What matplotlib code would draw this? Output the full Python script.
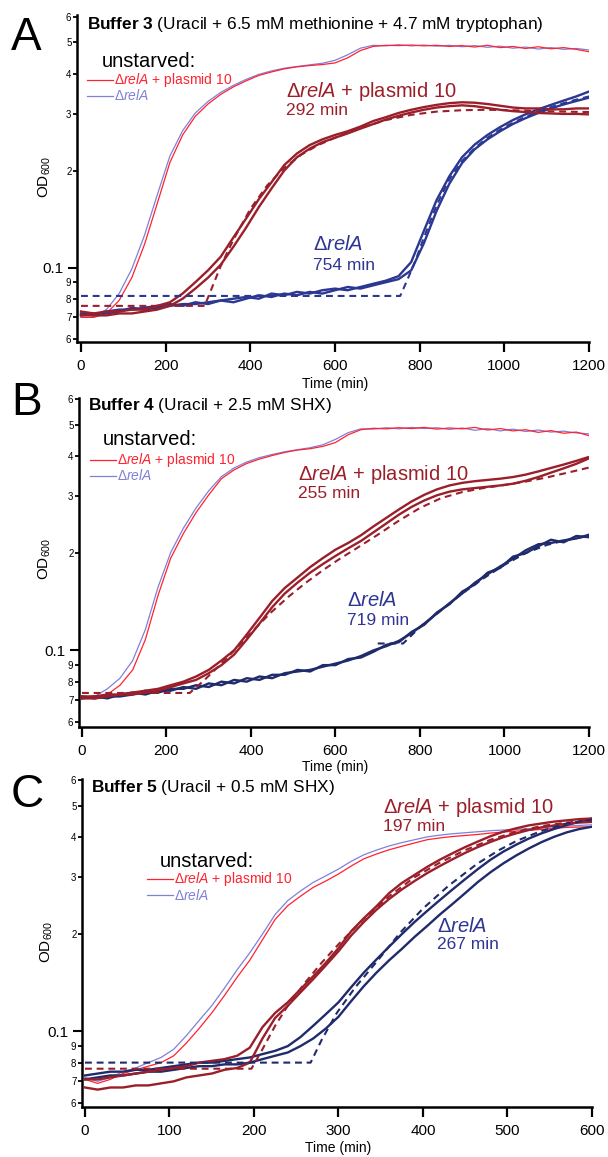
import numpy as np
import matplotlib
matplotlib.use('Agg')
import matplotlib.pyplot as plt
from matplotlib.ticker import FixedLocator, FixedFormatter, NullLocator
from matplotlib.lines import Line2D

plt.rcParams['font.family'] = ['Liberation Sans', 'DejaVu Sans']
plt.rcParams['mathtext.fontset'] = 'custom'
plt.rcParams['mathtext.rm'] = 'Liberation Sans'
plt.rcParams['mathtext.it'] = 'Liberation Sans:italic'
plt.rcParams['mathtext.bf'] = 'Liberation Sans:bold'

W, H = 608, 1157

# --- colours ---
C_UNST_RED = '#ff2230'
C_UNST_BLUE = '#8080d8'
C_PLAS = '#9b1f2a'
C_RELA_A = '#2b3790'
C_RELA_BC = '#1f2b6b'
C_TXT_BLUE = '#2e3592'

# --- axis ticks ---
y_minor_vals = [0.06, 0.07, 0.08, 0.09, 0.2, 0.3, 0.4, 0.5, 0.6]
y_minor_labels = ['6', '7', '8', '9', '2', '3', '4', '5', '6']

# ================= Panel A (Buffer 3) =================
tA = np.arange(0, 1201, 30)
a_unst_red = [0.070, 0.070, 0.072, 0.079, 0.093, 0.118, 0.158, 0.212, 0.258, 0.295,
              0.322, 0.345, 0.364, 0.380, 0.395, 0.405, 0.414, 0.420, 0.424, 0.427,
              0.432, 0.448, 0.472, 0.486, 0.490, 0.489, 0.491, 0.488, 0.490, 0.486,
              0.489, 0.484, 0.490, 0.482, 0.486, 0.479, 0.485, 0.478, 0.482, 0.476, 0.468]
a_unst_blue = [0.071, 0.071, 0.074, 0.083, 0.099, 0.126, 0.168, 0.222, 0.266, 0.302,
               0.328, 0.350, 0.368, 0.384, 0.398, 0.408, 0.416, 0.421, 0.426, 0.431,
               0.440, 0.458, 0.480, 0.490, 0.488, 0.492, 0.488, 0.491, 0.487, 0.490,
               0.485, 0.489, 0.483, 0.487, 0.480, 0.484, 0.477, 0.482, 0.476, 0.479, 0.474]
a_plas1 = [0.073, 0.072, 0.073, 0.073, 0.074, 0.074, 0.076, 0.078, 0.083, 0.090,
           0.098, 0.108, 0.124, 0.142, 0.163, 0.184, 0.208, 0.226, 0.240, 0.250,
           0.258, 0.265, 0.274, 0.285, 0.293, 0.302, 0.309, 0.315, 0.320, 0.324,
           0.326, 0.325, 0.322, 0.318, 0.314, 0.312, 0.312, 0.310, 0.310, 0.312, 0.312]
a_plas2 = [0.071, 0.071, 0.071, 0.072, 0.072, 0.073, 0.074, 0.076, 0.080, 0.086,
           0.093, 0.102, 0.116, 0.133, 0.154, 0.176, 0.200, 0.220, 0.234, 0.245,
           0.253, 0.261, 0.270, 0.279, 0.288, 0.296, 0.303, 0.309, 0.314, 0.317,
           0.319, 0.317, 0.313, 0.309, 0.306, 0.304, 0.302, 0.301, 0.300, 0.300, 0.299]
a_relA1 = [0.072, 0.071, 0.073, 0.074, 0.074, 0.075, 0.076, 0.076, 0.077, 0.077,
           0.078, 0.079, 0.080, 0.081, 0.080, 0.083, 0.082, 0.084, 0.083, 0.085,
           0.086, 0.085, 0.087, 0.089, 0.091, 0.094, 0.104, 0.130, 0.162, 0.192,
           0.220, 0.241, 0.258, 0.273, 0.287, 0.299, 0.310, 0.320, 0.330, 0.340, 0.352]
a_relA2 = [0.071, 0.072, 0.072, 0.073, 0.075, 0.074, 0.075, 0.077, 0.076, 0.078,
           0.077, 0.079, 0.078, 0.080, 0.082, 0.081, 0.083, 0.082, 0.084, 0.083,
           0.085, 0.087, 0.086, 0.088, 0.090, 0.092, 0.098, 0.119, 0.150, 0.182,
           0.211, 0.233, 0.250, 0.265, 0.279, 0.291, 0.302, 0.312, 0.321, 0.329, 0.337]
a_fit_plas_t = [0, 292, 310, 330, 360, 400, 440, 480, 520, 560, 600, 660, 720, 780, 840, 900, 960, 1020, 1080, 1140, 1200]
a_fit_plas = [0.076, 0.076, 0.087, 0.101, 0.122, 0.152, 0.180, 0.204, 0.224, 0.240, 0.253,
              0.271, 0.287, 0.298, 0.305, 0.308, 0.309, 0.308, 0.306, 0.305, 0.304]
a_fit_relA_t = [0, 754, 770, 790, 810, 840, 870, 900, 930, 960, 1000, 1050, 1100, 1150, 1200]
a_fit_relA = [0.0816, 0.0816, 0.091, 0.105, 0.124, 0.156, 0.188, 0.214, 0.235, 0.253,
              0.273, 0.294, 0.312, 0.327, 0.340]

# ================= Panel B (Buffer 4) =================
tB = np.arange(0, 1201, 30)
b_unst_red = [0.071, 0.071, 0.073, 0.078, 0.087, 0.108, 0.148, 0.193, 0.230, 0.267,
              0.303, 0.340, 0.362, 0.379, 0.391, 0.401, 0.410, 0.417, 0.421, 0.428,
              0.440, 0.465, 0.482, 0.487, 0.485, 0.489, 0.486, 0.490, 0.484, 0.488,
              0.485, 0.490, 0.481, 0.486, 0.478, 0.482, 0.473, 0.479, 0.470, 0.474, 0.462]
b_unst_blue = [0.072, 0.072, 0.076, 0.082, 0.093, 0.116, 0.157, 0.201, 0.239, 0.276,
               0.312, 0.345, 0.367, 0.383, 0.395, 0.404, 0.412, 0.418, 0.424, 0.433,
               0.450, 0.472, 0.485, 0.484, 0.489, 0.485, 0.490, 0.486, 0.489, 0.483,
               0.488, 0.480, 0.486, 0.478, 0.484, 0.476, 0.481, 0.474, 0.477, 0.471, 0.468]
b_plas1 = [0.072, 0.072, 0.073, 0.073, 0.074, 0.075, 0.076, 0.078, 0.080, 0.083,
           0.087, 0.093, 0.100, 0.112, 0.126, 0.142, 0.156, 0.168, 0.181, 0.193,
           0.205, 0.215, 0.227, 0.242, 0.257, 0.273, 0.289, 0.303, 0.315, 0.324,
           0.330, 0.334, 0.337, 0.340, 0.344, 0.350, 0.358, 0.367, 0.376, 0.386, 0.397]
b_plas2 = [0.071, 0.071, 0.072, 0.073, 0.073, 0.074, 0.075, 0.077, 0.079, 0.081,
           0.085, 0.090, 0.097, 0.108, 0.121, 0.136, 0.150, 0.162, 0.174, 0.185,
           0.196, 0.207, 0.218, 0.232, 0.247, 0.263, 0.278, 0.291, 0.302, 0.310,
           0.315, 0.318, 0.321, 0.324, 0.328, 0.335, 0.344, 0.355, 0.366, 0.378, 0.393]
b_relA1 = [0.071, 0.072, 0.071, 0.073, 0.074, 0.073, 0.075, 0.075, 0.077, 0.076,
           0.079, 0.078, 0.081, 0.080, 0.083, 0.082, 0.085, 0.086, 0.087, 0.089,
           0.091, 0.093, 0.096, 0.100, 0.103, 0.107, 0.113, 0.121, 0.130, 0.140,
           0.150, 0.162, 0.172, 0.182, 0.192, 0.204, 0.213, 0.215, 0.219, 0.222, 0.228]
b_relA2 = [0.072, 0.071, 0.072, 0.072, 0.073, 0.075, 0.074, 0.076, 0.076, 0.078,
           0.077, 0.080, 0.079, 0.082, 0.081, 0.084, 0.084, 0.087, 0.086, 0.090,
           0.090, 0.094, 0.095, 0.099, 0.104, 0.106, 0.114, 0.120, 0.131, 0.139,
           0.152, 0.160, 0.174, 0.180, 0.195, 0.200, 0.210, 0.220, 0.216, 0.226, 0.224]
b_fit_plas_t = [0, 255, 290, 330, 370, 410, 450, 490, 530, 570, 610, 650, 700, 750, 800,
                850, 900, 950, 1000, 1050, 1100, 1150, 1200]
b_fit_plas = [0.0738, 0.0738, 0.081, 0.091, 0.103, 0.117, 0.132, 0.147, 0.162, 0.177, 0.192,
              0.207, 0.228, 0.252, 0.276, 0.296, 0.309, 0.318, 0.325, 0.333, 0.343, 0.355, 0.368]
b_fit_relA_t = [700, 760, 800, 850, 900, 950, 1000, 1050, 1100, 1150, 1200]
b_fit_relA = [0.105, 0.105, 0.118, 0.133, 0.150, 0.167, 0.184, 0.200, 0.212, 0.220, 0.226]

# ================= Panel C (Buffer 5) =================
tC = np.arange(0, 601, 15)
c_unst_red = [0.071, 0.069, 0.071, 0.074, 0.076, 0.078, 0.080, 0.084, 0.092, 0.102,
              0.114, 0.129, 0.147, 0.166, 0.192, 0.222, 0.245, 0.262, 0.279, 0.292,
              0.307, 0.325, 0.342, 0.354, 0.365, 0.374, 0.383, 0.392, 0.397, 0.401,
              0.404, 0.407, 0.411, 0.414, 0.417, 0.419, 0.422, 0.425, 0.428, 0.429, 0.430]
c_unst_blue = [0.072, 0.070, 0.072, 0.075, 0.077, 0.080, 0.083, 0.088, 0.097, 0.108,
               0.120, 0.136, 0.155, 0.175, 0.200, 0.230, 0.254, 0.272, 0.289, 0.303,
               0.318, 0.336, 0.352, 0.364, 0.375, 0.384, 0.392, 0.400, 0.405, 0.409,
               0.412, 0.415, 0.418, 0.420, 0.422, 0.424, 0.427, 0.430, 0.432, 0.434, 0.436]
c_plas1 = [0.071, 0.071, 0.072, 0.073, 0.074, 0.075, 0.076, 0.077, 0.078, 0.080,
           0.081, 0.082, 0.084, 0.089, 0.103, 0.114, 0.123, 0.135, 0.148, 0.163,
           0.181, 0.204, 0.224, 0.244, 0.268, 0.288, 0.305, 0.323, 0.340, 0.356,
           0.372, 0.387, 0.402, 0.415, 0.425, 0.434, 0.440, 0.446, 0.450, 0.454, 0.456]
c_plas2 = [0.067, 0.066, 0.067, 0.067, 0.068, 0.068, 0.069, 0.070, 0.072, 0.073,
           0.074, 0.076, 0.077, 0.080, 0.095, 0.110, 0.120, 0.132, 0.145, 0.160,
           0.177, 0.198, 0.218, 0.238, 0.257, 0.275, 0.292, 0.309, 0.325, 0.341,
           0.357, 0.372, 0.386, 0.399, 0.410, 0.420, 0.428, 0.434, 0.439, 0.443, 0.445]
c_relA1 = [0.073, 0.074, 0.075, 0.075, 0.076, 0.076, 0.077, 0.078, 0.079, 0.080,
           0.080, 0.081, 0.082, 0.083, 0.085, 0.087, 0.090, 0.096, 0.104, 0.113,
           0.123, 0.137, 0.152, 0.167, 0.183, 0.200, 0.218, 0.236, 0.255, 0.275,
           0.296, 0.318, 0.340, 0.360, 0.378, 0.395, 0.410, 0.423, 0.435, 0.446, 0.456]
c_relA2 = [0.071, 0.072, 0.073, 0.073, 0.074, 0.075, 0.075, 0.076, 0.077, 0.078,
           0.078, 0.079, 0.079, 0.080, 0.082, 0.084, 0.086, 0.090, 0.095, 0.102,
           0.111, 0.124, 0.138, 0.152, 0.166, 0.180, 0.196, 0.212, 0.230, 0.248,
           0.268, 0.290, 0.311, 0.331, 0.350, 0.368, 0.385, 0.400, 0.413, 0.423, 0.430]
c_fit_plas_t = [0, 197, 210, 225, 240, 260, 280, 300, 330, 360, 390, 420, 450, 480, 510, 540, 570, 600]
c_fit_plas = [0.0766, 0.0766, 0.088, 0.104, 0.120, 0.141, 0.163, 0.186, 0.223, 0.262, 0.300,
              0.333, 0.364, 0.392, 0.415, 0.432, 0.443, 0.450]
c_fit_relA_t = [0, 267, 280, 298, 320, 345, 373, 400, 430, 464, 490, 511, 540, 570, 600]
c_fit_relA = [0.080, 0.080, 0.094, 0.114, 0.137, 0.164, 0.202, 0.240, 0.282, 0.330,
              0.364, 0.389, 0.417, 0.440, 0.452]


def fx(px):
    return px / W


def fy(py):
    return 1 - py / H


fig = plt.figure(figsize=(W / 100, H / 100), dpi=100, facecolor='white')


def make_axes(left, right, top, bottom, xlim, ylim, xticks):
    ax = fig.add_axes([fx(left), fy(bottom), (right - left) / W, (bottom - top) / H])
    ax.set_yscale('log')
    ax.set_xlim(*xlim)
    ax.set_ylim(*ylim)
    for s in ['top', 'right']:
        ax.spines[s].set_visible(False)
    for s in ['left', 'bottom']:
        ax.spines[s].set_linewidth(1.8)
    ax.yaxis.set_major_locator(FixedLocator([0.1]))
    ax.yaxis.set_major_formatter(FixedFormatter(['0.1']))
    ax.yaxis.set_minor_locator(FixedLocator(y_minor_vals))
    ax.yaxis.set_minor_formatter(FixedFormatter(y_minor_labels))
    ax.tick_params(axis='y', which='major', length=6.5, width=1.5, labelsize=11, pad=3)
    ax.tick_params(axis='y', which='minor', length=3, width=1.3, labelsize=7, pad=1)
    ax.set_xticks(xticks)
    ax.xaxis.set_minor_locator(NullLocator())
    ax.tick_params(axis='x', which='major', length=7, width=1.6, labelsize=11, pad=5)
    return ax


def draw_curves(ax, t, unst_red, unst_blue, plas, relA, fit_plas, fit_relA, c_relA):
    ax.plot(t, unst_blue, color=C_UNST_BLUE, lw=0.9, zorder=2)
    ax.plot(t, unst_red, color=C_UNST_RED, lw=0.9, zorder=2)
    for y in relA:
        ax.plot(t, y, color=c_relA, lw=1.7, zorder=3)
    for y in plas:
        ax.plot(t, y, color=C_PLAS, lw=1.7, zorder=3)
    ax.plot(fit_plas[0], fit_plas[1], color=C_PLAS, lw=1.5, dashes=(3.3, 2.3), zorder=4)
    ax.plot(fit_relA[0], fit_relA[1], color=c_relA, lw=1.5, dashes=(3.3, 2.3), zorder=4)


def panel_text(letter, lx, ly, title_bold, title_rest, tx, ty,
               unst_x, unst_y, leg_x, leg_y1, leg_y2, xlab_x, xlab_y, od_x, od_y):
    fig.text(fx(lx), fy(ly), letter, fontsize=33, va='baseline', ha='left')
    fig.text(fx(tx), fy(ty), r'$\mathbf{' + title_bold.replace(' ', r'\ ') + '}$ ' + title_rest,
             fontsize=12.4, va='baseline', ha='left')
    fig.text(fx(unst_x), fy(unst_y), 'unstarved:', fontsize=14.5, va='baseline', ha='left')
    fig.add_artist(Line2D([fx(leg_x), fx(leg_x + 26)], [fy(leg_y1), fy(leg_y1)],
                          transform=fig.transFigure, color=C_UNST_RED, lw=0.9))
    fig.add_artist(Line2D([fx(leg_x), fx(leg_x + 26)], [fy(leg_y2), fy(leg_y2)],
                          transform=fig.transFigure, color=C_UNST_BLUE, lw=0.9))
    fig.text(fx(leg_x + 27), fy(leg_y1), r'$\mathit{Δ relA}$ + plasmid 10', fontsize=10,
             color=C_UNST_RED, va='center', ha='left')
    fig.text(fx(leg_x + 27), fy(leg_y2), r'$\mathit{Δ relA}$', fontsize=10,
             color=C_UNST_BLUE, va='center', ha='left')
    fig.text(fx(xlab_x), fy(xlab_y), 'Time (min)', fontsize=10, va='center', ha='center')
    fig.text(fx(od_x), fy(od_y), r'OD$_{600}$', fontsize=11, rotation=90,
             va='center', ha='center')


def lag_text(x, y, label, lag, color, dy=18):
    fig.text(fx(x), fy(y), label, fontsize=14.5, color=color, va='baseline', ha='left')
    fig.text(fx(x), fy(y + dy), lag, fontsize=12.5, color=color, va='baseline', ha='left')


# Panel A
axA = make_axes(77, 589, 15, 342, (-9.5, 1200), (0.0587, 0.6086), [0, 200, 400, 600, 800, 1000, 1200])
draw_curves(axA, tA, a_unst_red, a_unst_blue, [a_plas1, a_plas2], [a_relA1, a_relA2],
            (a_fit_plas_t, a_fit_plas), (a_fit_relA_t, a_fit_relA), C_RELA_A)
panel_text('A', 11, 50, 'Buffer 3', '(Uracil + 6.5 mM methionine + 4.7 mM tryptophan)', 87, 29,
           102, 67, 87, 80, 96, 335, 384, 45, 177)
lag_text(286, 97, r'$\mathit{Δ relA}$ + plasmid 10', '292 min', C_PLAS)
lag_text(313, 250, r'$\mathit{Δ relA}$', '754 min', C_TXT_BLUE, dy=20)

# Panel B
axB = make_axes(79, 589, 398, 727, (-7.1, 1200), (0.0579, 0.6043), [0, 200, 400, 600, 800, 1000, 1200])
draw_curves(axB, tB, b_unst_red, b_unst_blue, [b_plas1, b_plas2], [b_relA1, b_relA2],
            (b_fit_plas_t, b_fit_plas), (b_fit_relA_t, b_fit_relA), C_RELA_BC)
panel_text('B', 11, 415, 'Buffer 4', '(Uracil + 2.5 mM SHX)', 88, 410,
           103, 445, 90, 460, 476, 335, 767, 45, 559)
lag_text(298, 480, r'$\mathit{Δ relA}$ + plasmid 10', '255 min', C_PLAS)
lag_text(347, 606, r'$\mathit{Δ relA}$', '719 min', C_TXT_BLUE, dy=19)

# Panel C
axC = make_axes(82, 592, 779, 1107, (-3.55, 600), (0.0583, 0.6043), [0, 100, 200, 300, 400, 500, 600])
draw_curves(axC, tC, c_unst_red, c_unst_blue, [c_plas1, c_plas2], [c_relA1, c_relA2],
            (c_fit_plas_t, c_fit_plas), (c_fit_relA_t, c_fit_relA), C_RELA_BC)
panel_text('C', 11, 807, 'Buffer 5', '(Uracil + 0.5 mM SHX)', 91, 792,
           160, 867, 147, 879, 895, 338, 1148, 47, 942)
lag_text(383, 813, r'$\mathit{Δ relA}$ + plasmid 10', '197 min', C_PLAS)
lag_text(437, 932, r'$\mathit{Δ relA}$', '267 min', C_TXT_BLUE, dy=17)

fig.savefig('out.png', dpi=100, facecolor='white')
